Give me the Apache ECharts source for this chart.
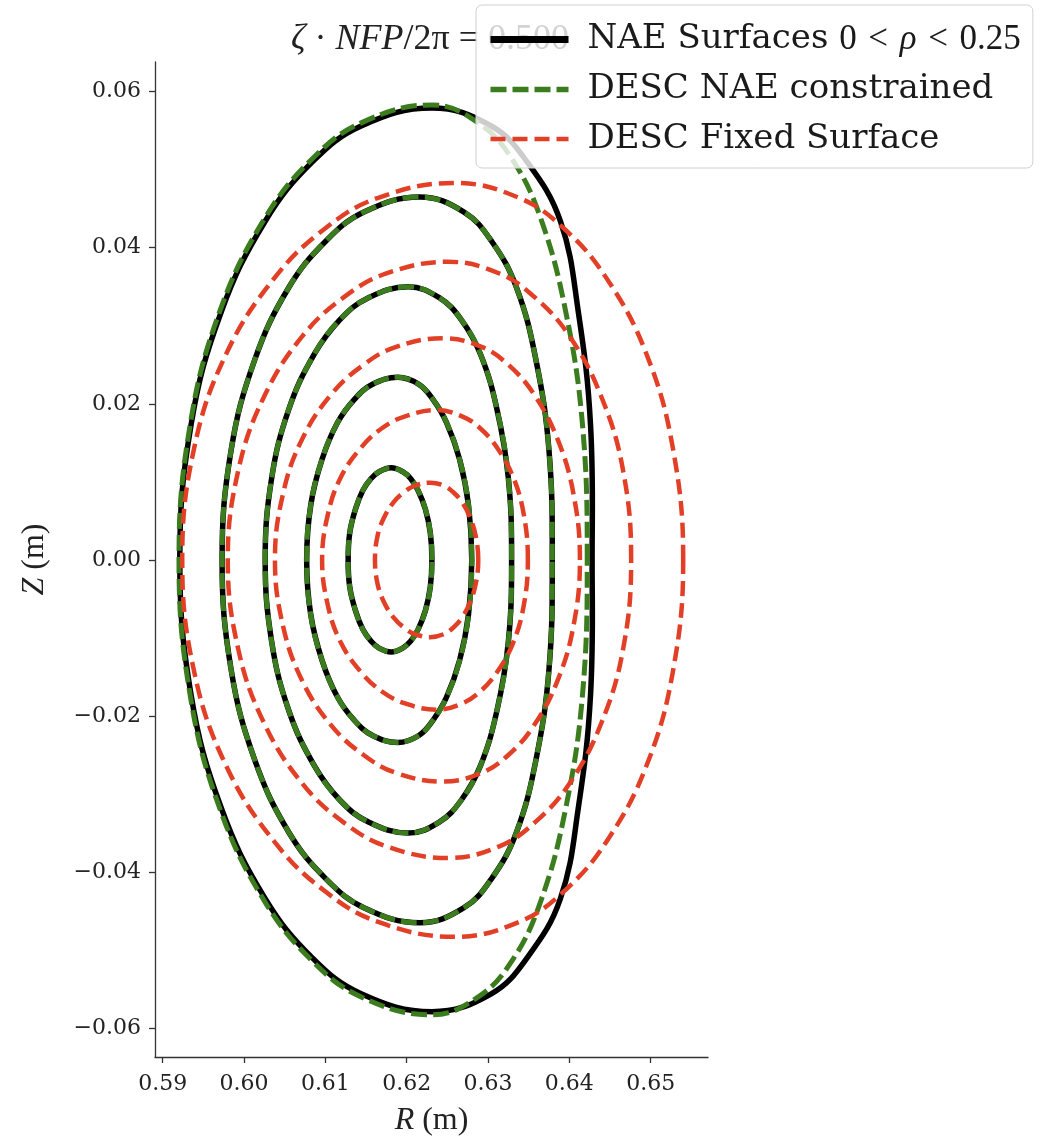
<!DOCTYPE html>
<html>
<head>
<meta charset="utf-8">
<script src="https://cdn.jsdelivr.net/npm/echarts@6/dist/echarts.min.js"></script>
<style>html,body{margin:0;padding:0;background:#fff;}#c{width:1043px;height:1139px;}</style>
</head>
<body>
<div id="c"></div>
<script>
// ---- data (R, Z) in metres ----
const xTicks = [0.59, 0.60, 0.61, 0.62, 0.63, 0.64, 0.65];
const yTicks = [-0.06, -0.04, -0.02, 0.00, 0.02, 0.04, 0.06];

const naeRing1 = [[0.6231,0],[0.6229,0.0035],[0.6223,0.0065],[0.6214,0.0089],[0.6205,0.0104],[0.6195,0.0113],[0.6181,0.0118],[0.6166,0.0113],[0.6156,0.0104],[0.6146,0.0089],[0.6137,0.0065],[0.6130,0.0035],[0.6128,0],[0.6130,-0.0035],[0.6137,-0.0065],[0.6146,-0.0089],[0.6156,-0.0104],[0.6166,-0.0113],[0.6181,-0.0118],[0.6195,-0.0113],[0.6205,-0.0104],[0.6214,-0.0089],[0.6223,-0.0065],[0.6229,-0.0035]];
const naeRing2 = [[0.6280,0],[0.6276,0.0070],[0.6265,0.0129],[0.6249,0.0176],[0.6232,0.0206],[0.6215,0.0225],[0.6189,0.0234],[0.6158,0.0225],[0.6136,0.0206],[0.6115,0.0176],[0.6096,0.0129],[0.6082,0.0070],[0.6077,0],[0.6082,-0.0070],[0.6096,-0.0129],[0.6115,-0.0176],[0.6136,-0.0206],[0.6158,-0.0225],[0.6189,-0.0234],[0.6215,-0.0225],[0.6232,-0.0206],[0.6249,-0.0176],[0.6265,-0.0129],[0.6276,-0.0070]];
const naeRing3 = [[0.6329,0],[0.6325,0.0105],[0.6311,0.0193],[0.6291,0.0263],[0.6267,0.0308],[0.6240,0.0336],[0.6202,0.0350],[0.6153,0.0336],[0.6118,0.0308],[0.6086,0.0263],[0.6055,0.0193],[0.6034,0.0105],[0.6026,0],[0.6034,-0.0105],[0.6055,-0.0193],[0.6086,-0.0263],[0.6118,-0.0308],[0.6153,-0.0336],[0.6202,-0.0350],[0.6240,-0.0336],[0.6267,-0.0308],[0.6291,-0.0263],[0.6311,-0.0193],[0.6325,-0.0105]];
const naeRing4 = [[0.6379,0],[0.6375,0.0140],[0.6359,0.0256],[0.6335,0.0349],[0.6304,0.0409],[0.6270,0.0446],[0.6216,0.0465],[0.6148,0.0446],[0.6101,0.0409],[0.6055,0.0349],[0.6013,0.0256],[0.5984,0.0140],[0.5973,0],[0.5984,-0.0140],[0.6013,-0.0256],[0.6055,-0.0349],[0.6101,-0.0409],[0.6148,-0.0446],[0.6216,-0.0465],[0.6270,-0.0446],[0.6304,-0.0409],[0.6335,-0.0349],[0.6359,-0.0256],[0.6375,-0.0140]];
const naeRing5 = [[0.6428,0],[0.6426,0.0174],[0.6411,0.0318],[0.6389,0.0434],[0.6348,0.0510],[0.6304,0.0556],[0.6231,0.0579],[0.6144,0.0556],[0.6084,0.0510],[0.6026,0.0434],[0.5972,0.0318],[0.5935,0.0174],[0.5921,0],[0.5935,-0.0174],[0.5972,-0.0318],[0.6026,-0.0434],[0.6084,-0.0510],[0.6144,-0.0556],[0.6231,-0.0579],[0.6304,-0.0556],[0.6348,-0.0510],[0.6389,-0.0434],[0.6411,-0.0318],[0.6426,-0.0174]];

// DESC NAE-constrained surfaces (inner four coincide with the NAE rings)
const constrRing5 = [[0.6422,0],[0.6416,0.0175],[0.6395,0.0321],[0.6365,0.0437],[0.6330,0.0513],[0.6288,0.0560],[0.6231,0.0583],[0.6144,0.0560],[0.6083,0.0513],[0.6025,0.0437],[0.5971,0.0321],[0.5934,0.0175],[0.5920,0],[0.5934,-0.0175],[0.5971,-0.0321],[0.6025,-0.0437],[0.6083,-0.0513],[0.6144,-0.0560],[0.6231,-0.0583],[0.6288,-0.0560],[0.6330,-0.0513],[0.6365,-0.0437],[0.6395,-0.0321],[0.6416,-0.0175]];

const fixedRing1 = [[0.6288,0],[0.6285,0.0030],[0.6278,0.0054],[0.6268,0.0074],[0.6257,0.0087],[0.6246,0.0095],[0.6229,0.0099],[0.6210,0.0095],[0.6197,0.0087],[0.6184,0.0074],[0.6172,0.0054],[0.6164,0.0030],[0.6161,0],[0.6164,-0.0030],[0.6172,-0.0054],[0.6184,-0.0074],[0.6197,-0.0087],[0.6210,-0.0095],[0.6229,-0.0099],[0.6246,-0.0095],[0.6257,-0.0087],[0.6268,-0.0074],[0.6278,-0.0054],[0.6285,-0.0030]];
const fixedRing2 = [[0.6349,0],[0.6344,0.0058],[0.6331,0.0106],[0.6311,0.0144],[0.6290,0.0169],[0.6268,0.0184],[0.6237,0.0192],[0.6198,0.0184],[0.6170,0.0169],[0.6144,0.0144],[0.6119,0.0106],[0.6103,0.0058],[0.6096,0],[0.6103,-0.0058],[0.6119,-0.0106],[0.6144,-0.0144],[0.6170,-0.0169],[0.6198,-0.0184],[0.6237,-0.0192],[0.6268,-0.0184],[0.6290,-0.0169],[0.6311,-0.0144],[0.6331,-0.0106],[0.6344,-0.0058]];
const fixedRing3 = [[0.6413,0],[0.6405,0.0085],[0.6385,0.0156],[0.6356,0.0213],[0.6325,0.0250],[0.6292,0.0273],[0.6245,0.0284],[0.6187,0.0273],[0.6147,0.0250],[0.6108,0.0213],[0.6072,0.0156],[0.6048,0.0085],[0.6038,0],[0.6048,-0.0085],[0.6072,-0.0156],[0.6108,-0.0213],[0.6147,-0.0250],[0.6187,-0.0273],[0.6245,-0.0284],[0.6292,-0.0273],[0.6325,-0.0250],[0.6356,-0.0213],[0.6385,-0.0156],[0.6405,-0.0085]];
const fixedRing4 = [[0.6476,0],[0.6466,0.0115],[0.6439,0.0210],[0.6400,0.0287],[0.6358,0.0336],[0.6314,0.0367],[0.6251,0.0382],[0.6175,0.0367],[0.6122,0.0336],[0.6072,0.0287],[0.6025,0.0210],[0.5993,0.0115],[0.5980,0],[0.5993,-0.0115],[0.6025,-0.0210],[0.6072,-0.0287],[0.6122,-0.0336],[0.6175,-0.0367],[0.6251,-0.0382],[0.6314,-0.0367],[0.6358,-0.0336],[0.6400,-0.0287],[0.6439,-0.0210],[0.6466,-0.0115]];
const fixedRing5 = [[0.6540,0],[0.6527,0.0145],[0.6494,0.0266],[0.6445,0.0362],[0.6393,0.0425],[0.6338,0.0464],[0.6259,0.0483],[0.6165,0.0464],[0.6100,0.0425],[0.6038,0.0362],[0.5979,0.0266],[0.5939,0.0145],[0.5924,0],[0.5939,-0.0145],[0.5979,-0.0266],[0.6038,-0.0362],[0.6100,-0.0425],[0.6165,-0.0464],[0.6259,-0.0483],[0.6338,-0.0464],[0.6393,-0.0425],[0.6445,-0.0362],[0.6494,-0.0266],[0.6527,-0.0145]];

const naeRings = [naeRing1, naeRing2, naeRing3, naeRing4, naeRing5];
const constrRings = [naeRing1, naeRing2, naeRing3, naeRing4, constrRing5];
const fixedRings = [fixedRing1, fixedRing2, fixedRing3, fixedRing4, fixedRing5];

const NAME_NAE = 'NAE Surfaces';
const NAME_CON = 'DESC NAE constrained';
const NAME_FIX = 'DESC Fixed Surface';

const BLACK = '#000000', GREEN = '#3b7d1e', RED = '#e23f27';
const W_BLACK = 5.5, W_GREEN = 5, W_RED = 4.5;
const DASH_GREEN = [16, 6], DASH_RED = [15, 7];
const SERIF = '"DejaVu Serif", serif';
const MATH = '"Liberation Serif", "DejaVu Serif", serif';

// closed surface drawn through the cartesian axes (api.coord)
function ringSeries(name, ring, color, width, dash, z) {
  return {
    type: 'custom', name: name, coordinateSystem: 'cartesian2d', data: ring,
    encode: { x: 0, y: 1 }, silent: true, z: z, animation: false,
    renderItem: function (params, api) {
      if (params.dataIndex !== 0) return null;
      const pts = ring.map(p => api.coord(p));
      return {
        type: 'polygon',
        shape: { points: pts, smooth: 0.4 },
        style: { fill: 'none', stroke: color, lineWidth: width, lineDash: dash, lineCap: 'butt', lineJoin: 'round' }
      };
    }
  };
}
// empty line series that only give the legend its line icons
function legendSeries(name, color, width, type) {
  return { type: 'line', name: name, data: [], symbol: 'none',
    lineStyle: { color: color, width: width, type: type }, itemStyle: { color: color } };
}

const series = [
  legendSeries(NAME_NAE, BLACK, W_BLACK, 'solid'),
  legendSeries(NAME_CON, GREEN, W_GREEN, DASH_GREEN),
  legendSeries(NAME_FIX, RED, W_RED, DASH_RED)
];
naeRings.forEach(d => series.push(ringSeries(NAME_NAE, d, BLACK, W_BLACK, null, 2)));
constrRings.forEach(d => series.push(ringSeries(NAME_CON, d, GREEN, W_GREEN, DASH_GREEN, 3)));
fixedRings.forEach(d => series.push(ringSeries(NAME_FIX, d, RED, W_RED, DASH_RED, 4)));

const chart = echarts.init(document.getElementById('c'), null, { renderer: 'canvas' });
chart.setOption({
  animation: false,
  backgroundColor: '#ffffff',
  grid: { left: 155, right: 335, top: 62, bottom: 82, containLabel: false, outerBoundsMode: 'none' },
  title: {
    text: '{i|ζ}{r| · }{i|NFP}{r|/2π = 0.500}', left: 291, top: 22, z: 1, padding: 0,
    textStyle: { fontWeight: 'normal', rich: {
      i: { fontFamily: MATH, fontStyle: 'italic', fontWeight: 'normal', fontSize: 36, color: '#222' },
      r: { fontFamily: MATH, fontWeight: 'normal', fontSize: 36, color: '#222' } } }
  },
  xAxis: {
    type: 'value', min: 0.58905, max: 0.65705,
    splitLine: { show: false },
    axisLine: { show: true, onZero: false, lineStyle: { color: '#333', width: 1.3 } },
    axisTick: { show: true, inside: false, length: 6, customValues: xTicks, lineStyle: { color: '#333', width: 1.3 } },
    axisLabel: { show: true, customValues: xTicks, margin: 16, fontFamily: SERIF, fontSize: 22, color: '#222',
      formatter: v => Number(v).toFixed(2) },
    name: '{i|R}{r| (m)}', nameLocation: 'middle', nameGap: 48,
    nameTextStyle: { rich: { i: { fontFamily: MATH, fontStyle: 'italic', fontSize: 32, color: '#222' },
                             r: { fontFamily: MATH, fontSize: 32, color: '#222' } } }
  },
  yAxis: {
    type: 'value', min: -0.0637, max: 0.0638,
    splitLine: { show: false },
    axisLine: { show: true, onZero: false, lineStyle: { color: '#333', width: 1.3 } },
    axisTick: { show: true, inside: false, length: 6, customValues: yTicks, lineStyle: { color: '#333', width: 1.3 } },
    axisLabel: { show: true, customValues: yTicks, margin: 14, fontFamily: SERIF, fontSize: 22, color: '#222',
      formatter: v => { const s = Number(v).toFixed(2); return s === '-0.00' ? '0.00' : s.replace('-', '\u2212'); } },
    name: '{i|Z}{r| (m)}', nameLocation: 'middle', nameGap: 104, nameRotate: 90,
    nameTextStyle: { rich: { i: { fontFamily: MATH, fontStyle: 'italic', fontSize: 32, color: '#222' },
                             r: { fontFamily: MATH, fontSize: 32, color: '#222' } } }
  },
  legend: {
    show: true, zlevel: 1, z: 10, orient: 'vertical', left: 476, top: 5,
    padding: [17, 12, 12, 11], itemGap: 15.5, itemWidth: 78, itemHeight: 22,
    backgroundColor: 'rgba(255,255,255,0.8)', borderColor: '#d0d0d0', borderWidth: 1, borderRadius: 6,
    selectedMode: false,
    itemStyle: { opacity: 0 },
    data: [
      { name: NAME_NAE, lineStyle: { width: 7 }, itemStyle: { opacity: 0 } },
      { name: NAME_CON, lineStyle: { width: 5.5 }, itemStyle: { opacity: 0 } },
      { name: NAME_FIX, lineStyle: { width: 4.5 }, itemStyle: { opacity: 0 } }
    ],
    formatter: n => n === NAME_NAE ? '{t|NAE Surfaces }{m|0\u2004<\u2004}{mi|ρ}{m|\u2004<\u20040.25}' : '{t|' + n + '}',
    textStyle: {
      padding: [0, 0, 0, 14],
      rich: {
        t: { fontFamily: SERIF, fontSize: 34, color: '#1a1a1a', lineHeight: 37 },
        m: { fontFamily: MATH, fontSize: 35, color: '#1a1a1a', lineHeight: 37 },
        mi: { fontFamily: MATH, fontStyle: 'italic', fontSize: 35, color: '#1a1a1a', lineHeight: 37 }
      }
    }
  },
  series: series
});
</script>
</body>
</html>
